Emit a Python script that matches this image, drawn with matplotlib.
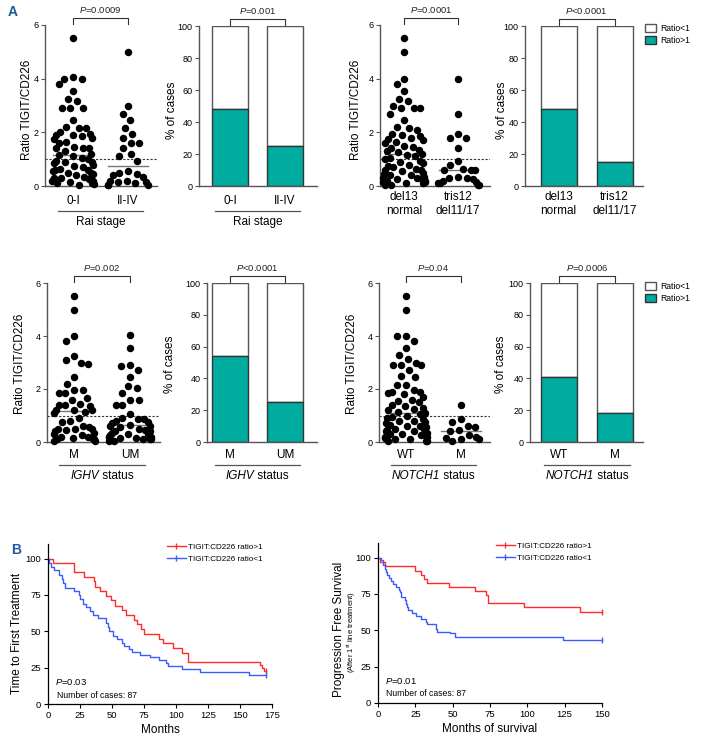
import numpy as np
import matplotlib
matplotlib.use("Agg")
import matplotlib.pyplot as plt
import matplotlib.transforms as mtrans

plt.rcParams['font.family'] = ['Liberation Sans', 'DejaVu Sans']
plt.rcParams['mathtext.fontset'] = 'custom'
plt.rcParams['mathtext.rm'] = 'Liberation Sans'
plt.rcParams['mathtext.it'] = 'Liberation Sans:italic'
plt.rcParams['mathtext.bf'] = 'Liberation Sans:bold'

# ---------------- data ----------------
rai_0_I = [5.5, 4.05, 4.0, 4.0, 3.8, 3.55, 3.25, 3.15, 2.9, 2.9, 2.9, 2.45, 2.2, 2.15, 2.18,
           2.0, 1.95, 1.9, 1.9, 1.85, 1.8, 1.75, 1.65, 1.6, 1.45, 1.42, 1.4, 1.4, 1.3, 1.2,
           1.15, 1.1, 1.05, 1.0, 0.95, 0.9, 0.88, 0.85, 0.8, 0.75, 0.7, 0.65, 0.6, 0.6, 0.55,
           0.5, 0.5, 0.45, 0.4, 0.35, 0.3, 0.28, 0.25, 0.22, 0.2, 0.18, 0.15, 0.12, 0.1, 0.08, 0.05]
rai_II_IV = [5.0, 3.0, 2.7, 2.45, 2.15, 1.95, 1.8, 1.6, 1.6, 1.4, 1.2, 1.1, 0.95, 0.55, 0.5,
             0.45, 0.4, 0.35, 0.2, 0.15, 0.15, 0.2, 0.05, 0.05, 0.05, 0.1]
cyto_del13 = [5.5, 5.0, 4.0, 3.8, 3.55, 3.25, 3.15, 3.0, 2.9, 2.9, 2.9, 2.7, 2.45, 2.2, 2.15,
              2.1, 1.95, 1.9, 1.85, 1.8, 1.75, 1.7, 1.65, 1.6, 1.5, 1.45, 1.4, 1.35, 1.3, 1.25,
              1.2, 1.15, 1.1, 1.05, 1.0, 0.95, 0.9, 0.85, 0.8, 0.75, 0.7, 0.65, 0.6, 0.55, 0.5,
              0.45, 0.4, 0.35, 0.3, 0.3, 0.25, 0.2, 0.2, 0.15, 0.1, 0.1, 0.05, 0.05,
              0.6, 0.4, 0.25, 0.15]
cyto_tris12 = [4.0, 2.7, 1.95, 1.8, 1.8, 1.4, 0.95, 0.8, 0.65, 0.6, 0.6, 0.6, 0.35, 0.3, 0.3,
               0.25, 0.2, 0.15, 0.1, 0.1, 0.05, 0.05]
ighv_M = [5.5, 5.0, 4.0, 3.8, 3.25, 3.1, 3.0, 2.95, 2.45, 2.2, 1.95, 1.95, 1.85, 1.85, 1.65,
          1.6, 1.45, 1.4, 1.4, 1.35, 1.2, 1.2, 1.2, 1.15, 1.1, 0.9, 0.8, 0.75, 0.55, 0.5, 0.5,
          0.45, 0.5, 0.4, 0.35, 0.3, 0.2, 0.15, 0.15, 0.2, 0.1, 0.1, 0.05, 0.05, 0.25, 0.6]
ighv_UM = [4.05, 3.55, 2.9, 2.85, 2.7, 2.45, 2.1, 2.05, 1.85, 1.6, 1.6, 1.4, 1.4, 1.05, 0.9,
           0.85, 0.85, 0.8, 0.75, 0.65, 0.6, 0.6, 0.55, 0.5, 0.45, 0.4, 0.4, 0.35, 0.3, 0.25,
           0.2, 0.2, 0.15, 0.15, 0.1, 0.1, 0.05, 0.05, 0.3, 0.7, 0.2, 0.1]
notch_WT = [5.5, 5.0, 4.0, 4.0, 3.8, 3.55, 3.3, 3.15, 3.0, 2.9, 2.9, 2.9, 2.7, 2.5, 2.45, 2.15,
            2.15, 1.95, 1.9, 1.9, 1.85, 1.8, 1.7, 1.6, 1.55, 1.5, 1.4, 1.35, 1.3, 1.25, 1.2,
            1.15, 1.1, 1.05, 1.0, 0.95, 0.9, 0.85, 0.8, 0.75, 0.7, 0.65, 0.6, 0.55, 0.5, 0.5,
            0.45, 0.4, 0.35, 0.3, 0.3, 0.25, 0.2, 0.2, 0.15, 0.1, 0.1, 0.05, 0.05, 0.6, 0.4,
            0.25, 0.15, 0.02, 0.8]
notch_M = [1.4, 0.85, 0.75, 0.6, 0.55, 0.45, 0.42, 0.25, 0.15, 0.1, 0.1, 0.05, 0.2]

pct_ratio_gt1 = {'rai': [48, 25], 'cyto': [48, 15], 'ighv': [54, 25], 'notch': [41, 18]}

p_scatter = ['=0.0009', '=0.0001', '=0.002', '=0.04']
p_bar = ['=0.001', '<0.0001', '<0.0001', '=0.0006']

# Kaplan-Meier (percent)
ttft_hi_t = [0, 3.6, 20.6, 28, 35.7, 37, 41, 45.6, 49.5, 52.6, 57.8, 61, 67, 69.5, 72.7, 75,
             87, 90, 97.4, 105, 109, 166, 167.5, 168.5, 170]
ttft_hi_s = [100, 97, 90.8, 87.6, 84.6, 80.6, 77.6, 74.2, 71.2, 67.7, 64.5, 61.3, 58, 54.8,
             51.8, 48.4, 44.9, 41.7, 38.5, 35, 29, 27, 24.7, 22.8, 22.8]
ttft_lo_t = [0, 1, 2, 4.4, 8.3, 11, 12, 13.5, 20.6, 24.5, 25, 27.3, 30, 33, 35, 39, 45.6, 47,
             48, 51, 54, 58, 59, 63, 66, 72, 80, 86.5, 92.4, 94, 104.7, 119, 157, 170]
ttft_lo_s = [100, 97, 94, 92, 89, 86, 83, 80, 78, 75, 72, 69, 67, 64, 61, 59, 56, 53, 50, 47,
             45, 42, 40, 38, 36, 34, 32, 30, 28, 26, 24, 22, 20, 20]
pfs_hi_t = [0, 1.6, 4.5, 24.6, 28.7, 30.7, 33, 47.7, 65, 72, 73.4, 97.8, 135, 150]
pfs_hi_s = [100, 97, 94, 91, 88, 85, 82.5, 80, 77, 74, 68.5, 66, 62.5, 62.5]
pfs_lo_t = [0, 2.2, 3.4, 4.5, 5.1, 6, 7.4, 9, 10, 12.3, 13.9, 15, 15.7, 18, 19, 19.5, 20, 23,
            25.7, 28.7, 32, 33, 38.7, 39.6, 48, 51.5, 124, 150]
pfs_lo_s = [100, 98, 95, 92, 90, 88, 86, 84, 82, 80, 78, 76, 73, 71, 68, 66, 64, 62, 60, 58,
            56, 54, 51, 49, 48, 45.5, 43.5, 43.5]

TEAL = '#00ab9f'
W, H = 701, 745
fig = plt.figure(figsize=(W / 100, H / 100), dpi=100)
renderer = fig.canvas.get_renderer()


def add_ax(l, t, r, b):
    return fig.add_axes([l / W, 1 - b / H, (r - l) / W, (b - t) / H])


def ftext(x, y, s, **kw):
    return fig.text(x / W, 1 - y / H, s, **kw)


def mixed(ax, x, y, parts, size=8.5):
    # centred text made of (string, style) pieces
    tr = ax.get_xaxis_transform()
    objs = [ax.text(x, y, s, transform=tr, fontsize=size, fontstyle=st, ha='left',
                    va='center') for s, st in parts]
    widths = [o.get_window_extent(renderer).width for o in objs]
    off = -sum(widths) / 2
    for o, w in zip(objs, widths):
        o.set_transform(mtrans.offset_copy(tr, fig=fig, x=off, y=0, units='dots'))
        off += w


def setup(ax, l, r, c0, c1, t, b, ymax):
    unit = c1 - c0
    ax.set_xlim((l - c0) / unit, (r - c0) / unit)
    ax.set_ylim(0, ymax)
    for s in ['top', 'right']:
        ax.spines[s].set_visible(False)
    for s in ['left', 'bottom']:
        ax.spines[s].set_color('#555555')
        ax.spines[s].set_linewidth(1.0)
    ax.set_xticks([])
    ax.tick_params(axis='y', length=3, width=0.8, color='#555555', labelsize=6.5, pad=1.5)
    return unit, b - t


def swarm(vals, ymax, hpx, d=9.5, half=21):
    # beeswarm in pixels, then squeezed so that the cloud stays within +-half px
    v = np.asarray(vals, float)
    order = np.argsort(-v)
    placed = []
    xs = np.zeros(len(v))
    for i in order:
        y = v[i] / ymax * hpx
        cands = [0.0]
        for (px, py) in placed:
            dy = y - py
            if abs(dy) < d:
                dx = np.sqrt(d * d - dy * dy)
                cands += [px + dx, px - dx]
        cands = sorted(cands, key=lambda c: (abs(c), c))
        for c in cands:
            if all((c - px) ** 2 + (y - py) ** 2 >= d * d * 0.999 for (px, py) in placed):
                xs[i] = c
                placed.append((c, y))
                break
    return half * np.tanh(xs / half)


def bracket(ax, x0, x1, unit, hpx, ptxt):
    tr = ax.get_xaxis_transform()
    ytop = 1 + 7 / hpx
    ylow = 1 + 1 / hpx
    ax.plot([x0, x0, x1, x1], [ylow, ytop, ytop, ylow], color='#333333', lw=0.8,
            transform=tr, clip_on=False)
    ax.text((x0 + x1) / 2, 1 + 15 / hpx, r'$\mathit{P}$' + ptxt, transform=tr,
            ha='center', va='center', fontsize=6.8, color='#222222')


def scatter_panel(l, r, c0, c1, t, b, g0, g1, ptxt):
    ax = add_ax(l, t, r, b)
    unit, hpx = setup(ax, l, r, c0, c1, t, b, 6)
    ax.set_yticks([0, 2, 4, 6])
    for k, g in enumerate([g0, g1]):
        v = np.array(g)
        xs = swarm(v, 6, hpx) / unit + k
        ax.scatter(xs, v, s=29, color='black', lw=0, clip_on=False, zorder=3)
        med = np.median(v)
        ax.plot([k - 0.36, k + 0.36], [med, med], color='#777777', lw=1, zorder=2)
    ax.axhline(1, color='#333333', lw=0.8, ls=(0, (2, 1.5)), zorder=1)
    bracket(ax, 0, 1, unit, hpx, ptxt)
    return ax, hpx


def bar_panel(l, r, c0, c1, t, b, vals, ptxt):
    ax = add_ax(l, t, r, b)
    unit, hpx = setup(ax, l, r, c0, c1, t, b, 100)
    ax.set_yticks([0, 20, 40, 60, 80, 100])
    wid = 36 / unit
    v = np.array(vals)
    lo = ax.bar([0, 1], 100 - v, bottom=v, width=wid, color='white', edgecolor='#555555',
                lw=1, label='Ratio<1')
    hi = ax.bar([0, 1], v, width=wid, color=TEAL, edgecolor='#333333', lw=1, label='Ratio>1')
    bracket(ax, 0, 1, unit, hpx, ptxt)
    return ax, hpx, lo, hi


def cats(ax, hpx, labels, off, title=None, size=8.5, underline=True):
    tr = ax.get_xaxis_transform()
    for k, lab in enumerate(labels):
        ax.text(k, -off / hpx, lab, transform=tr, ha='center', va='center', fontsize=size)
    if underline:
        ax.plot([-0.27, 1.27], [-(off + 10) / hpx] * 2, color='#555555', lw=0.9,
                transform=tr, clip_on=False)
    if title:
        mixed(ax, 0.5, -(off + 21) / hpx, title)


def legend_box(handles, y):
    fig.legend(handles=handles, loc='upper left', bbox_to_anchor=(645 / W, 1 - y / H),
               frameon=False, fontsize=6.2, handlelength=1.3, handleheight=0.9,
               handletextpad=0.5, labelspacing=0.35, borderaxespad=0, borderpad=0)


rai_title = [('Rai stage', 'normal')]
ighv_title = [('IGHV', 'italic'), (' status', 'normal')]
notch_title = [('NOTCH1', 'italic'), (' status', 'normal')]

# ---------------- row 1 ----------------
ax, h = scatter_panel(45, 157, 73, 128, 25, 186, rai_0_I, rai_II_IV, p_scatter[0])
cats(ax, h, ['0-I', 'II-IV'], 15, rai_title)
ax, h, lo, hi = bar_panel(199, 317, 230, 285, 26, 186, pct_ratio_gt1['rai'], p_bar[0])
cats(ax, h, ['0-I', 'II-IV'], 15, rai_title)
ax, h = scatter_panel(380, 490, 404, 458, 25, 186, cyto_del13, cyto_tris12, p_scatter[1])
cats(ax, h, ['del13', 'tris12'], 11, underline=False)
cats(ax, h, ['normal', 'del11/17'], 25, underline=False)
ax, h, lo, hi = bar_panel(525, 643, 558.5, 614.5, 26, 186, pct_ratio_gt1['cyto'], p_bar[1])
cats(ax, h, ['del13', 'tris12'], 11, underline=False)
cats(ax, h, ['normal', 'del11/17'], 25, underline=False)
legend_box([lo, hi], 24)

# ---------------- row 2 ----------------
ax, h = scatter_panel(47, 160, 74, 130, 283, 442, ighv_M, ighv_UM, p_scatter[2])
cats(ax, h, ['M', 'UM'], 13, ighv_title)
ax, h, lo, hi = bar_panel(207, 317, 229.5, 285, 283, 442, pct_ratio_gt1['ighv'], p_bar[2])
cats(ax, h, ['M', 'UM'], 13, ighv_title)
ax, h = scatter_panel(379, 490, 406, 461, 283, 442, notch_WT, notch_M, p_scatter[3])
cats(ax, h, ['WT', 'M'], 13, notch_title)
ax, h, lo, hi = bar_panel(530, 643, 559, 615, 283, 442, pct_ratio_gt1['notch'], p_bar[3])
cats(ax, h, ['WT', 'M'], 13, notch_title)
legend_box([lo, hi], 282)

# y labels
for x, y, s in [(27, 110, 'Ratio TIGIT/CD226'), (172, 110, '% of cases'),
                (356, 110, 'Ratio TIGIT/CD226'), (502, 110, '% of cases'),
                (20, 364, 'Ratio TIGIT/CD226'), (170, 364, '% of cases'),
                (352, 364, 'Ratio TIGIT/CD226'), (501, 364, '% of cases')]:
    ftext(x, y, s, rotation=90, ha='center', va='center', fontsize=8.5)


# ---------------- row 3: KM ----------------
def km_panel(l, r, t, b, xmax, xticks, hi_t, hi_s, lo_t, lo_s, ptxt, xlabel, leg_xy):
    ax = add_ax(l, t, r, b)
    ax.set_xlim(0, xmax)
    ax.set_ylim(0, 110)
    for s in ['top', 'right']:
        ax.spines[s].set_visible(False)
    for s in ['left', 'bottom']:
        ax.spines[s].set_linewidth(0.9)
    ax.set_xticks(xticks)
    ax.set_yticks([0, 25, 50, 75, 100])
    ax.tick_params(length=3, width=0.8, labelsize=6.8, pad=2)
    ax.plot(hi_t, hi_s, drawstyle='steps-post', color='#ff2a2a', lw=1.0, marker='|',
            ms=4, markevery=[len(hi_t) - 1], label='TIGIT:CD226 ratio>1', clip_on=False)
    ax.plot(lo_t, lo_s, drawstyle='steps-post', color='#3a5cff', lw=1.0, marker='|',
            ms=4, markevery=[len(lo_t) - 1], label='TIGIT:CD226 ratio<1', clip_on=False)
    ax.text(0.03, 0.14, r'$\mathit{P}$' + ptxt, transform=ax.transAxes, fontsize=6.8,
            va='center', ha='left')
    ax.set_xlabel(xlabel, fontsize=8.5, labelpad=3)
    ax.legend(loc='upper left', bbox_to_anchor=(leg_xy[0] / W, 1 - leg_xy[1] / H),
              bbox_transform=fig.transFigure, frameon=False, fontsize=5.9,
              handlelength=2.3, handletextpad=0.25, labelspacing=0.55, borderpad=0,
              borderaxespad=0, numpoints=1)
    return ax


ax1 = km_panel(48, 272, 544, 704, 175, [0, 25, 50, 75, 100, 125, 150, 175],
               ttft_hi_t, ttft_hi_s, ttft_lo_t, ttft_lo_s, '=0.03', 'Months', (167, 543))
ax2 = km_panel(378, 602, 543, 703, 150, [0, 25, 50, 75, 100, 125, 150],
               pfs_hi_t, pfs_hi_s, pfs_lo_t, pfs_lo_s, '=0.01', 'Months of survival',
               (496, 542))
ftext(57, 695, 'Number of cases: 87', fontsize=6.2, va='center')
ftext(386, 694, 'Number of cases: 87', fontsize=6.2, va='center')

ftext(17, 633, 'Time to First Treatment', rotation=90, ha='center', va='center', fontsize=8.5)
ftext(339, 629, 'Progression Free Survival', rotation=90, ha='center', va='center',
      fontsize=8.5)
ftext(352, 632, r'(After 1$^{\rm st}$ line treatment)', rotation=90, ha='center',
      va='center', fontsize=5.5)

# panel letters
ftext(13, 12, 'A', fontsize=10, fontweight='bold', color='#1f5b9c', ha='center', va='center')
ftext(16, 550, 'B', fontsize=10, fontweight='bold', color='#1f5b9c', ha='center', va='center')

fig.savefig('out.png', dpi=100)
